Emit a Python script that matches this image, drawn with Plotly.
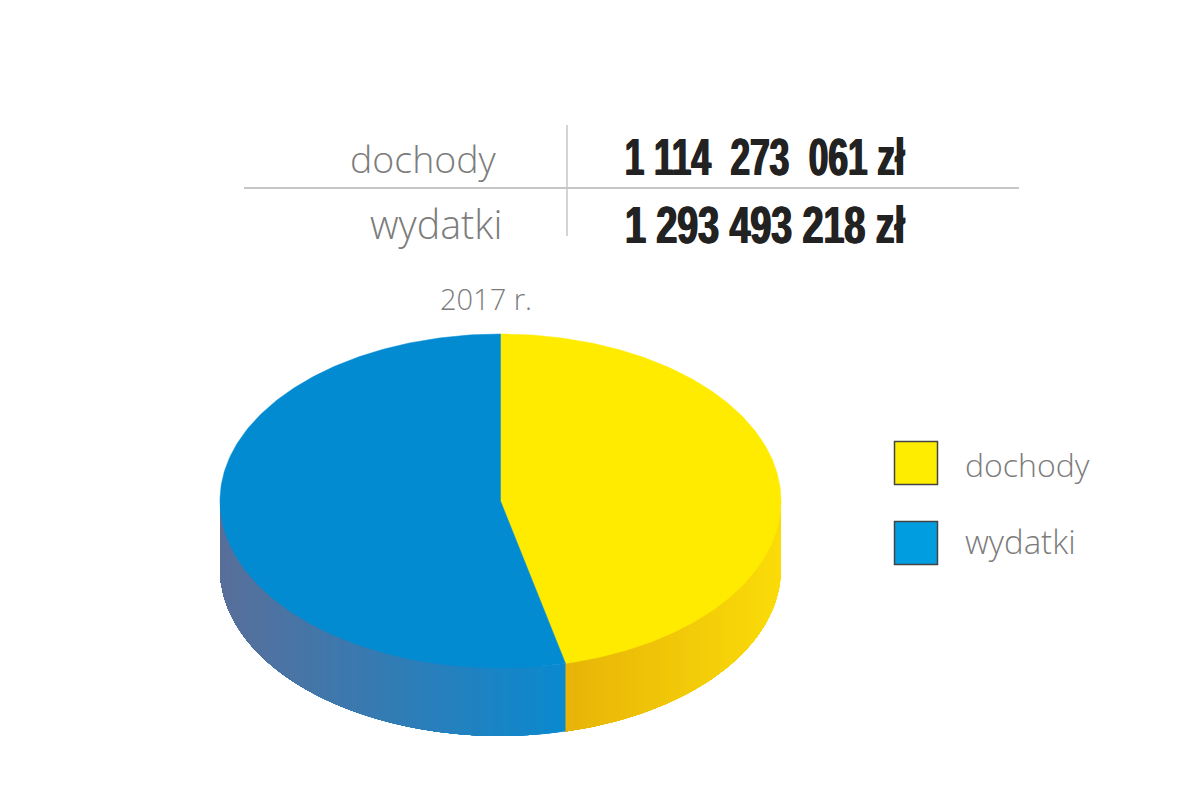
import numpy as np
import plotly.graph_objects as go

categories = ["dochody", "wydatki"]
values = [1114273061, 1293493218]
value_labels = ["1 114  273  061 zł", "1 293 493 218 zł"]
year_label = "2017 r."
top_colors = ["#FEEB00", "#038BD2"]
legend_colors = ["#FFED00", "#009EE0"]
side_gradients = [("#FBDC0A", "#E8B408"), ("#0A8AD0", "#5A6F9A")]

CX, CY, RX, RY, DEPTH = 500.5, 501, 280.5, 167, 68
LIGHT = "Open Sans"
GREY = "#7C7C7C"


def hex2rgb(h):
    return np.array([int(h[i:i + 2], 16) for i in (1, 3, 5)], float)


def ell(t, dy=0.0):
    return CX + RX * np.sin(t), CY + dy - RY * np.cos(t)


fracs = np.array(values, float) / sum(values)
edges = np.concatenate([[0], np.cumsum(fracs)]) * 2 * np.pi

fig = go.Figure()

# side wall, split into overlapping strips for the horizontal gradient
for i in range(2):
    a = max(edges[i], np.pi / 2)
    b = min(edges[i + 1], 3 * np.pi / 2)
    x_start = ell(a)[0]
    x_end = ell(b)[0]
    c0, c1 = (hex2rgb(c) for c in side_gradients[i])
    steps = np.linspace(a, b, 71)
    for s0, s1 in zip(steps[:-1], steps[1:]):
        # every strip runs on to the far end of the wall, so no seams show
        ts = np.linspace(s0, b, 80)
        xt, yt = ell(ts)
        xb, yb = ell(ts[::-1], DEPTH)
        xm = ell((s0 + s1) / 2)[0]
        f = (xm - x_start) / (x_end - x_start)
        c = c0 + (c1 - c0) * f
        col = "rgb(%d,%d,%d)" % tuple(c)
        fig.add_trace(go.Scatter(
            x=np.concatenate([xt, xb]), y=np.concatenate([yt, yb]),
            mode="lines", fill="toself", fillcolor=col,
            line=dict(color=col, width=0), hoverinfo="skip", showlegend=False))

# top face
for i in range(2):
    ts = np.linspace(edges[i], edges[i + 1], 240)
    xt, yt = ell(ts)
    fig.add_trace(go.Scatter(
        x=np.concatenate([[CX], xt, [CX]]), y=np.concatenate([[CY], yt, [CY]]),
        mode="lines", fill="toself", fillcolor=top_colors[i],
        line=dict(color=top_colors[i], width=0.5),
        name=categories[i], hoverinfo="name", showlegend=False))

# legend swatches
fig.add_trace(go.Scatter(
    x=[916, 916], y=[463, 543], mode="markers",
    marker=dict(symbol="square", size=43, color=legend_colors,
                line=dict(color="#444444", width=1.5)),
    hoverinfo="skip", showlegend=False))


def label(x, y, text, size, anchor="left", color=GREY, family=LIGHT, weight=300, shadow=None):
    font = dict(family=family, size=size, color=color, weight=weight)
    if shadow:
        font["shadow"] = shadow
    fig.add_annotation(x=x, y=y, text=text, showarrow=False, xanchor=anchor, yanchor="middle",
                       xref="x", yref="y", font=font)


label(499, 158.5, categories[0], 37.5, "right")
label(504, 224, categories[1], 39.5, "right")
label(534, 298, year_label, 29, "right")
label(963, 464, categories[0], 32)
label(963, 541, categories[1], 33)
for y, t in zip([157, 225], value_labels):
    label(765, y, t, 51, "center", "#222222", "Liberation Sans", 700,
          "1px 0 0 #222222, -1px 0 0 #222222")

fig.add_shape(type="line", x0=244, x1=1019, y0=188, y1=188, line=dict(color="#C6C6C6", width=2))
fig.add_shape(type="line", x0=567, x1=567, y0=125, y1=236, line=dict(color="#C6C6C6", width=1.5))

fig.update_xaxes(range=[0, 1200], visible=False)
fig.update_yaxes(range=[796, 0], visible=False)
fig.update_layout(width=1200, height=796, margin=dict(l=0, r=0, t=0, b=0),
                  paper_bgcolor="white", plot_bgcolor="white", showlegend=False)

# no page margin; condense the figures to the reference's narrow headline cut
POST = """
document.body.style.margin = '0';
document.documentElement.style.overflow = 'hidden';
function squeeze() {
  document.querySelectorAll('.annotation-text').forEach(function (t) {
    if (t.textContent.indexOf('zł') < 0) return;
    var x = parseFloat(t.getAttribute('x')) || 0;
    var w = t.getComputedTextLength();
    var sx = 280 / w;
    t.setAttribute('transform', 'translate(' + x + ',0) scale(' + sx + ',1) translate(' + (-x) + ',0)');
  });
}
squeeze();
setTimeout(squeeze, 50);
setTimeout(squeeze, 300);
"""
fig.write_html("out.html", config=dict(displayModeBar=False), post_script=POST)
